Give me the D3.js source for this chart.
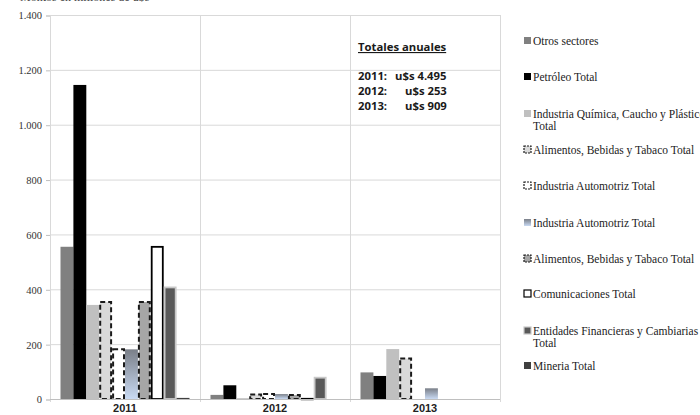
<!DOCTYPE html>
<html>
<head>
<meta charset="utf-8">
<script src="https://cdn.jsdelivr.net/npm/d3@7"></script>
<style>
  html, body { margin: 0; padding: 0; background: #fff; }
  svg { display: block; }
</style>
</head>
<body>
<svg id="chart" width="700" height="415"></svg>
<script>
// ---------- data ----------
const years = ["2011", "2012", "2013"];
const seriesNames = [
  "Otros sectores",
  "Petróleo Total",
  "Industria Química, Caucho y Plásticos\nTotal",
  "Alimentos, Bebidas y Tabaco Total",
  "Industria Automotriz Total",
  "Industria Automotriz Total",
  "Alimentos, Bebidas y Tabaco Total",
  "Comunicaciones Total",
  "Entidades Financieras y Cambiarias\nTotal",
  "Mineria Total"
];
// values per series, one per year (2011, 2012, 2013)
const otros          = [555, 15, 97];
const petroleo       = [1145, 50, 84];
const quimica        = [343, 3, 182];
const alimentos1     = [357, 20, 151];
const automotriz1    = [185, 22, 0];
const automotriz2    = [181, 18, 39];
const alimentos2     = [357, 18, 0];
const comunicaciones = [558, 4, 0];
const entidades      = [410, 81, 0];
const mineria        = [4, 0, 0];
const seriesValues = [otros, petroleo, quimica, alimentos1, automotriz1,
                      automotriz2, alimentos2, comunicaciones, entidades, mineria];
const yTicks = [0, 200, 400, 600, 800, 1000, 1200, 1400];
const totalsTitle = "Totales anuales";
const totalsYears = ["2011:", "2012:", "2013:"];
const totalsValues = ["u$s 4.495", "u$s 253", "u$s 909"];
const topNote = "Montos en millones de u$s";

(function () {
// ---------- styles ----------
const styles = [
  { fill: "#808080" },
  { fill: "#000000" },
  { fill: "#c0c0c0" },
  { fill: "#d9d9d9", stroke: "#1a1a1a", dash: "5,3", sw: 2 },
  { fill: "#ffffff", stroke: "#1a1a1a", dash: "5,3", sw: 2 },
  { fill: "url(#gradAuto)" },
  { fill: "#a6a6a6", stroke: "#1a1a1a", dash: "5,3", sw: 2 },
  { fill: "#ffffff", stroke: "#000000", sw: 1.8 },
  { fill: "#595959", stroke: "#c8c8c8", sw: 1.8 },
  { fill: "#404040" }
];

const svg = d3.select("#chart");
const defs = svg.append("defs");
const grad = defs.append("linearGradient").attr("id", "gradAuto")
  .attr("x1", 0).attr("y1", 0).attr("x2", 0).attr("y2", 1);
grad.append("stop").attr("offset", "0%").attr("stop-color", "#7a7f88");
grad.append("stop").attr("offset", "100%").attr("stop-color", "#c9daf3");

const pLeft = 50, pRight = 500, pTop = 15, pBottom = 399;

const x0 = d3.scaleBand().domain(years).range([pLeft, pRight]).padding(0);
const x1 = d3.scaleBand().domain(d3.range(seriesNames.length))
  .range([10.5, x0.bandwidth() - 10.5]).padding(0);
const y = d3.scaleLinear().domain([0, 1400]).range([pBottom, pTop]);

// gridlines
const g = svg.append("g");
g.selectAll("line.h").data(yTicks.slice(1)).enter().append("line")
  .attr("x1", pLeft).attr("x2", pRight)
  .attr("y1", d => y(d) + 0.5).attr("y2", d => y(d) + 0.5)
  .attr("stroke", "#d9d9d9").attr("stroke-width", 1);
const bounds = years.map(yr => x0(yr)).concat([pRight]);
g.selectAll("line.v").data(bounds).enter().append("line")
  .attr("x1", d => Math.round(d) + 0.5).attr("x2", d => Math.round(d) + 0.5)
  .attr("y1", pTop).attr("y2", pBottom + 3)
  .attr("stroke", "#d9d9d9").attr("stroke-width", 1);

// y axis
const yAxis = d3.axisLeft(y).tickValues(yTicks).tickSize(4).tickPadding(4)
  .tickFormat(d => d3.format(",")(d).replace(/,/g, "."));
const ya = svg.append("g").attr("transform", `translate(${pLeft},0.5)`).call(yAxis);
ya.select(".domain").attr("stroke", "#d9d9d9");
ya.selectAll(".tick line").attr("stroke", "#bfbfbf");
ya.selectAll(".tick text").attr("font-family", "Liberation Serif, serif")
  .attr("font-size", 10.5).attr("fill", "#333");

// bars
const groups = svg.append("g").selectAll("g").data(years).enter().append("g")
  .attr("transform", d => `translate(${x0(d)},0)`);
groups.each(function (yr, yi) {
  const sel = d3.select(this);
  seriesValues.forEach((vals, si) => {
    const v = vals[yi];
    if (v <= 0) return;
    const st = styles[si];
    const inset = st.stroke ? st.sw / 2 : 0;
    sel.append("rect")
      .attr("x", x1(si) + inset)
      .attr("y", y(v) + inset)
      .attr("width", x1.bandwidth() - 2 * inset)
      .attr("height", Math.max(0.5, y(0) - y(v) - inset))
      .attr("fill", st.fill)
      .attr("stroke", st.stroke || "none")
      .attr("stroke-width", st.sw || 0)
      .attr("stroke-dasharray", st.dash || null);
  });
});

// x axis
svg.append("line").attr("x1", pLeft).attr("x2", pRight)
  .attr("y1", pBottom + 0.5).attr("y2", pBottom + 0.5).attr("stroke", "#bfbfbf");
const xAxis = d3.axisBottom(x0).tickSize(0).tickPadding(5);
const xa = svg.append("g").attr("transform", `translate(0,${pBottom})`).call(xAxis);
xa.select(".domain").remove();
xa.selectAll(".tick text").attr("font-family", "Liberation Sans, Arial, sans-serif")
  .attr("font-weight", "bold").attr("font-size", 11).attr("fill", "#222");

// totals annotation
const ann = svg.append("g").attr("font-family", "Open Sans, Liberation Sans, sans-serif")
  .attr("font-weight", "bold").attr("font-size", 11.3).attr("fill", "#1a1a1a");
ann.append("text").attr("x", 358).attr("y", 51).text(totalsTitle)
  .attr("text-decoration", "underline");
totalsYears.forEach((t, i) => {
  ann.append("text").attr("x", 358).attr("y", 80 + i * 15).text(t);
  ann.append("text").attr("x", i === 0 ? 395 : 405).attr("y", 80 + i * 15)
    .text(totalsValues[i]);
});

// top note (cut off at top edge)
svg.append("text").attr("x", 20).attr("y", 1)
  .attr("font-family", "Liberation Serif, serif").attr("font-size", 12)
  .attr("fill", "#444").text(topNote);

// legend
const legendY = [41, 77, 114, 150, 186, 223, 259, 294, 331, 366];
const leg = svg.append("g").attr("font-family", "Liberation Serif, serif")
  .attr("font-size", 11.5).attr("fill", "#222");
seriesNames.forEach((name, i) => {
  const st = styles[i];
  const yy = legendY[i];
  const item = leg.append("g");
  const s = 7;
  item.append("rect").attr("x", 524).attr("y", yy - s / 2 - 0.5)
    .attr("width", s).attr("height", s)
    .attr("fill", st.fill)
    .attr("stroke", st.stroke || "none")
    .attr("stroke-width", st.stroke ? 1.2 : 0)
    .attr("stroke-dasharray", st.dash ? "2,1" : null);
  const lines = name.split("\n");
  lines.forEach((ln, k) => {
    item.append("text").attr("x", 533).attr("y", yy + 4 + k * 12).text(ln);
  });
});
})();
</script>
</body>
</html>
